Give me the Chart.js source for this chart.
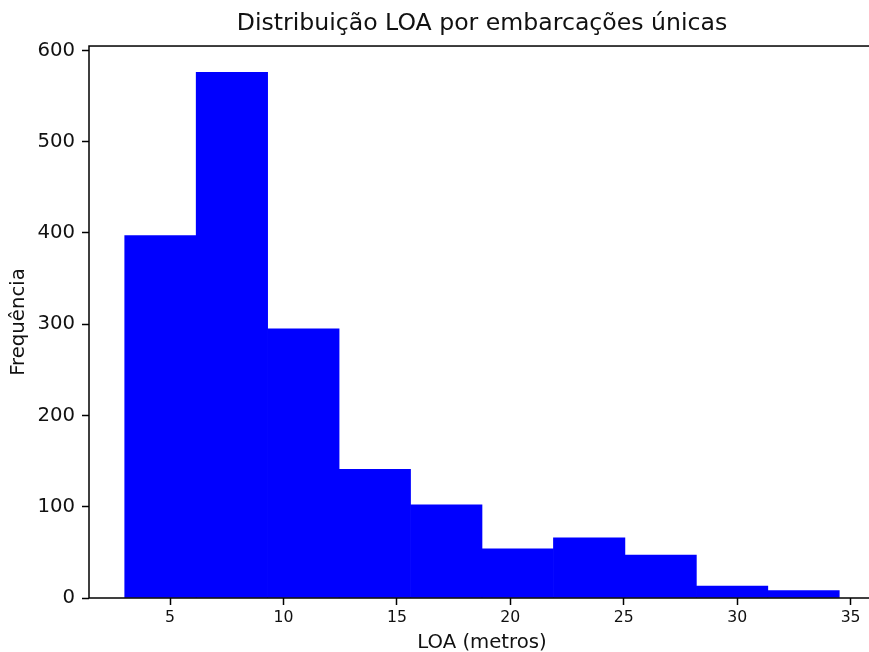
<!DOCTYPE html>
<html>
<head>
<meta charset="utf-8">
<script src="https://cdn.jsdelivr.net/npm/chart.js@4"></script>
<style>
  html, body { margin: 0; padding: 0; background: #fff; overflow: hidden; }
  #wrap { width: 875px; height: 655px; position: relative; }
</style>
</head>
<body>
<div id="wrap"><canvas id="loaChart"></canvas></div>
<script>
//histogram bins (metros) and counts per bin
const binEdges = [3, 6.15, 9.3, 12.45, 15.6, 18.75, 21.9, 25.05, 28.2, 31.35, 34.5];
const counts = [397, 576, 295, 141, 102, 54, 66, 47, 13, 8];

//tick labels
const xTicks = [5, 10, 15, 20, 25, 30, 35];
const yTicks = [0, 100, 200, 300, 400, 500, 600];

//bars sit at the middle of each bin
const histData = counts.map(function(c, i) {
    return { x: (binEdges[i] + binEdges[i + 1]) / 2, y: c };
});

//same 5% margins matplotlib puts around the data
const xSpan = binEdges[binEdges.length - 1] - binEdges[0];
const xMin = binEdges[0] - xSpan * 0.05;
const xMax = binEdges[binEdges.length - 1] + xSpan * 0.05;
const yMax = Math.max.apply(null, counts) * 1.05;

const fontFamily = "'DejaVu Sans', sans-serif";
const textColor = '#111';

//spines drawn on top of the bars, like matplotlib does
const framePlugin = {
    id: 'frame',
    afterDraw: function(chart) {
        const a = chart.chartArea;
        const ctx = chart.ctx;
        ctx.save();
        ctx.strokeStyle = '#000';
        ctx.lineWidth = 1.5;
        ctx.strokeRect(a.left, a.top, a.right - a.left, a.bottom - a.top);
        ctx.restore();
    }
};

var loaConfig = {
    type: 'bar',
    data: {
        datasets: [{
            label: 'LOA',
            backgroundColor: 'rgb(0,0,255)',
            borderWidth: 0,
            data: histData,
            barPercentage: 1,
            categoryPercentage: 1
        }]
    },
    options: {
        responsive: true,
        maintainAspectRatio: false,
        animation: false,
        layout: { padding: 0 },
        scales: {
            x: {
                type: 'linear',
                min: xMin,
                max: xMax,
                offset: false,
                afterBuildTicks: function(scale) {
                    scale.ticks = xTicks.map(function(v) { return { value: v }; });
                },
                afterFit: function(scale) { scale.height = 57; },
                grid: {
                    display: true,
                    drawOnChartArea: false,
                    offset: false,
                    tickLength: 7,
                    tickColor: '#000',
                    tickWidth: 1.5
                },
                border: { display: false },
                ticks: {
                    color: textColor,
                    font: { family: fontFamily, size: 15.7 },
                    padding: 4,
                    maxRotation: 0
                },
                title: {
                    display: true,
                    text: 'LOA (metros)',
                    color: textColor,
                    font: { family: fontFamily, size: 19.7 },
                    padding: { top: 0, bottom: 0 }
                }
            },
            y: {
                min: 0,
                max: yMax,
                afterBuildTicks: function(scale) {
                    scale.ticks = yTicks.map(function(v) { return { value: v }; });
                },
                afterFit: function(scale) { scale.width = 89; },
                grid: {
                    display: true,
                    drawOnChartArea: false,
                    tickLength: 7,
                    tickColor: '#000',
                    tickWidth: 1.5
                },
                border: { display: false },
                ticks: {
                    color: textColor,
                    font: { family: fontFamily, size: 19.7 },
                    padding: 7
                },
                title: {
                    display: true,
                    text: 'Frequência',
                    color: textColor,
                    font: { family: fontFamily, size: 19.7 },
                    padding: { top: 7, bottom: 0 }
                }
            }
        },
        plugins: {
            legend: { display: false },
            tooltip: { enabled: false },
            title: {
                display: true,
                fullSize: false,
                text: 'Distribuição LOA por embarcações únicas',
                color: textColor,
                font: { family: fontFamily, size: 23.6, weight: 'normal' },
                padding: { top: 10, bottom: 7.7 }
            }
        }
    },
    plugins: [framePlugin]
};

window.onload = function() {
    var ctx = document.getElementById('loaChart').getContext('2d');
    window.loaChart = new Chart(ctx, loaConfig);
};
</script>
</body>
</html>
